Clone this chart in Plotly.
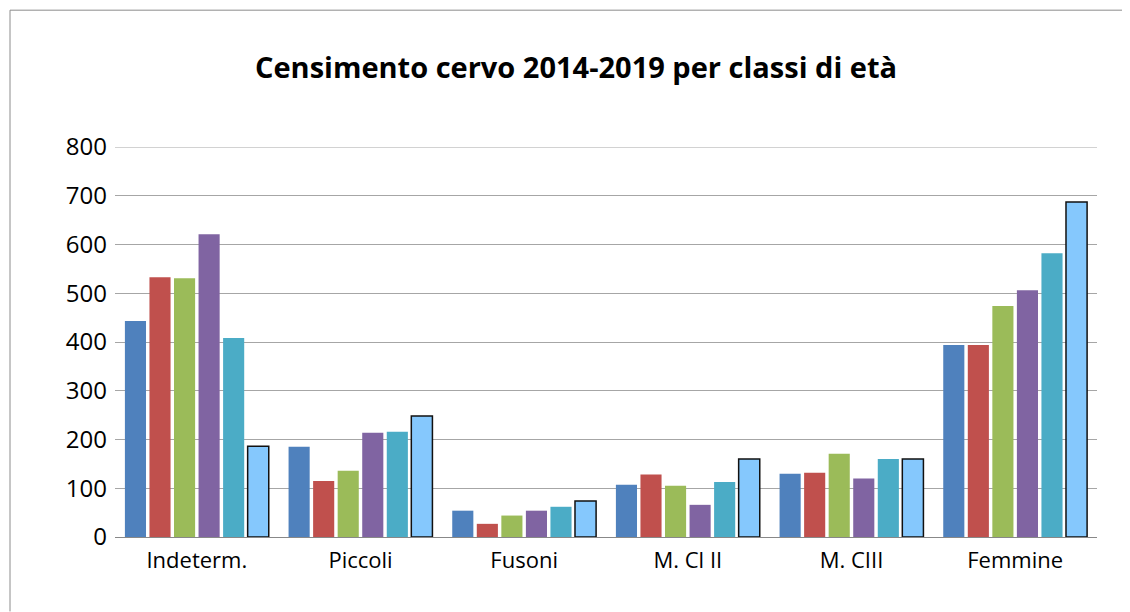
import plotly.graph_objects as go

categories = ["Indeterm.", "Piccoli", "Fusoni", "M. Cl II", "M. CIII", "Femmine"]
years = ["2014", "2015", "2016", "2017", "2018", "2019"]
v2014 = [443, 185, 54, 107, 130, 394]
v2015 = [533, 115, 27, 128, 132, 394]
v2016 = [531, 136, 44, 105, 171, 474]
v2017 = [621, 214, 54, 66, 120, 506]
v2018 = [408, 216, 62, 113, 160, 582]
v2019 = [186, 248, 74, 160, 160, 687]
series = [v2014, v2015, v2016, v2017, v2018, v2019]
colors = ["#4F81BD", "#C0504D", "#9BBB59", "#8064A2", "#4BACC6", "#85C8FD"]
y_ticks = [0, 100, 200, 300, 400, 500, 600, 700, 800]

fig = go.Figure()
for i, (yr, vals) in enumerate(zip(years, series)):
    last = i == len(series) - 1
    fig.add_trace(go.Bar(
        name=yr, x=categories, y=vals,
        marker=dict(color=colors[i],
                    line=dict(color="#111111" if last else colors[i], width=1.5 if last else 0)),
    ))

# page body has an 8px margin; figure coordinates are offset accordingly
OFF = 8
W, H = 1130 - OFF, 612 - OFF
ml, mr, mt, mb = 115 - OFF, 33, 147 - OFF, 74.5
pw, ph = W - ml - mr, H - mt - mb

def px_x(p):
    return (p - OFF - ml) / pw

def px_y(p):
    return (H - mb - (p - OFF)) / ph

fig.update_layout(
    width=W, height=H,
    margin=dict(l=ml, r=mr, t=mt, b=mb, autoexpand=False),
    paper_bgcolor="white", plot_bgcolor="white",
    barmode="group", bargap=0.1, bargroupgap=0.14,
    showlegend=False,
    font=dict(family="Open Sans", color="#000000"),
    title=dict(text="<b>Censimento cervo 2014-2019 per classi di età</b>",
               x=(576 - OFF) / W, xanchor="center", y=1 - (68 - OFF) / H, yanchor="middle",
               font=dict(size=29, family="Open Sans", color="#000000")),
    xaxis=dict(showgrid=False, showline=True, linecolor="#888888", linewidth=1,
               ticks="", tickfont=dict(size=22), ticklabelstandoff=4),
    yaxis=dict(range=[0, 800], tickvals=y_ticks, showgrid=True, gridcolor="#A6A6A6",
               gridwidth=1, zeroline=False, showline=False, ticks="",
               tickfont=dict(size=24), ticklabelstandoff=7),
    shapes=[
        dict(type="line", xref="paper", yref="y", x0=0, x1=1, y0=y_ticks[-1], y1=y_ticks[-1],
             line=dict(color="#A6A6A6", width=1), layer="below"),
        dict(type="line", xref="paper", yref="paper", x0=px_x(10), x1=px_x(10),
             y0=px_y(10), y1=px_y(612), line=dict(color="#8C8C8C", width=1)),
        dict(type="line", xref="paper", yref="paper", x0=px_x(10), x1=px_x(1130),
             y0=px_y(10), y1=px_y(10), line=dict(color="#8C8C8C", width=1)),
    ],
)

fig.write_html("out.html")
